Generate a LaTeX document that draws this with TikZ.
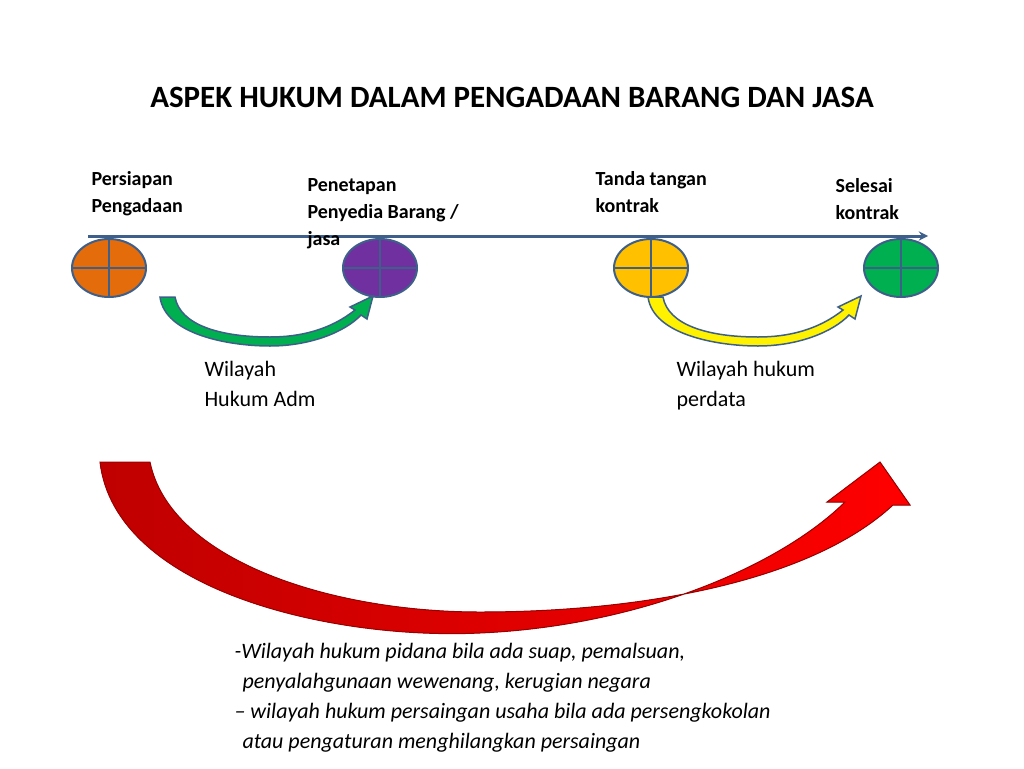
\documentclass[tikz,border=0pt]{standalone}
\usepackage{fontspec}
\setmainfont{Carlito}
\usetikzlibrary{shapes.geometric,positioning}
\definecolor{edge}{HTML}{3E5F8A}
\definecolor{orangeC}{HTML}{E46C0A}
\definecolor{purpleC}{HTML}{7030A0}
\definecolor{yellowC}{HTML}{FFC000}
\definecolor{greenC}{HTML}{00B050}
\begin{document}
\begin{tikzpicture}[x=1pt, y=-1pt,
    stage/.style={ellipse, draw=edge, line width=2pt, minimum width=74pt, minimum height=58pt, inner sep=0pt,
      path picture={\draw[edge, line width=2pt] (path picture bounding box.north) -- (path picture bounding box.south)
        (path picture bounding box.west) -- (path picture bounding box.east);}},
    phase/.style={anchor=north west, align=left, font=\fontsize{20}{27}\selectfont\bfseries},
    area/.style={anchor=north west, align=left, font=\fontsize{22}{30}\selectfont},
    curl/.style={draw=edge, line width=1.5pt}]
  \useasboundingbox (0,0) rectangle (1024,768);

  % title
  \node[font=\fontsize{31}{36}\selectfont\bfseries] (title) at (512,97) {ASPEK HUKUM DALAM PENGADAAN BARANG DAN JASA};

  % timeline
  \coordinate (start) at (88,236);
  \coordinate (end) at (928,236);
  \draw[edge, line width=3pt, -stealth] (start) -- (end);

  % stages
  \node[stage, fill=orangeC] (prep) at (109,268) {};
  \node[stage, fill=purpleC] (pick) at (380,268) {};
  \node[stage, fill=yellowC] (sign) at (651,268) {};
  \node[stage, fill=greenC] (done) at (901,268) {};

  \node[phase] (prepL) at (88,168) {Persiapan\\Pengadaan};
  \node[phase] (pickL) at (304,175) {Penetapan\\Penyedia Barang /\\jasa};
  \node[phase] (signL) at (592,168) {Tanda tangan\\kontrak};
  \node[phase] (doneL) at (832,175) {Selesai\\kontrak};

  % small curls
  \foreach \dx/\col in {0/greenC, 488/yellow}
    \filldraw[curl, fill=\col, shift={(\dx,0)}] (160,297) .. controls (165,335) and (230,346) .. (270,346)
      .. controls (310,346) and (345,332) .. (361,315) -- (367,319) -- (373,296) -- (350,307) -- (355,310)
      .. controls (330,330) and (300,337) .. (270,337) .. controls (220,337) and (180,325) .. (175,297) -- cycle;

  \node[area] (adm) at (201,358) {Wilayah\\Hukum Adm};
  \node[area] (civ) at (673,358) {Wilayah hukum\\perdata};

  % big curl
  \filldraw[draw=red!60!black, line width=1pt, left color=red!75!black, right color=red]
    (100,462) .. controls (115,590) and (330,640) .. (480,633) .. controls (640,626) and (780,566) .. (845,502)
    -- (827,502) -- (880,462) -- (910,505) -- (893,505)
    .. controls (810,582) and (640,612) .. (480,612) .. controls (330,612) and (170,560) .. (150,462) -- cycle;

  \node[anchor=north west, align=left, font=\fontsize{22}{30}\selectfont\itshape] (crime) at (231,640)
    {-Wilayah hukum pidana bila ada suap, pemalsuan,\\
     \hspace*{8pt}penyalahgunaan wewenang, kerugian negara\\
     -- wilayah hukum persaingan usaha bila ada persengkokolan\\
     \hspace*{8pt}atau pengaturan menghilangkan persaingan};
\end{tikzpicture}
\end{document}
